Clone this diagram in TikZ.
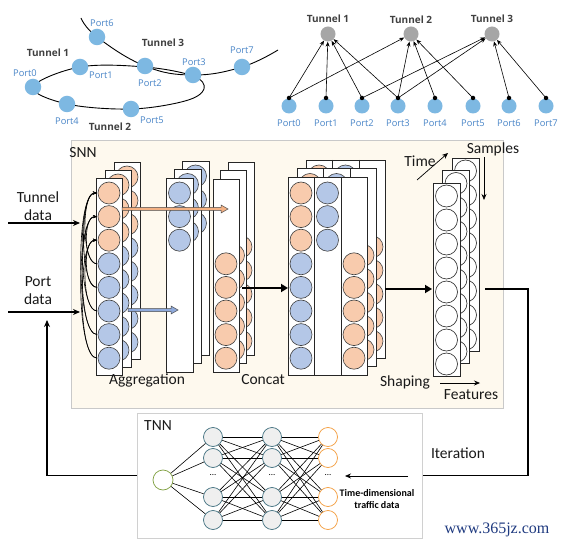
\documentclass[tikz,border=0pt]{standalone}
\usepackage{fontspec}
\setmainfont{Carlito}
\newfontfamily\wmfont{Liberation Serif}
\newfontfamily\grfont{Open Sans}
\usetikzlibrary{arrows.meta}
\definecolor{portblue}{HTML}{7DB8E2}
\definecolor{porttext}{HTML}{4A86C8}
\definecolor{tungray}{HTML}{A6A6A6}
\definecolor{tuntext}{HTML}{404040}
\definecolor{orfill}{HTML}{F8CBAD}
\definecolor{blfill}{HTML}{B4C7E7}
\definecolor{snnbg}{HTML}{FEF9EE}
\definecolor{snnborder}{HTML}{C9C9C9}
\definecolor{tnnborder}{HTML}{D0D0D0}
\definecolor{hidfill}{HTML}{EFEFEF}
\definecolor{hiddraw}{HTML}{41707F}
\definecolor{outdraw}{HTML}{F39C3C}
\definecolor{indraw}{HTML}{7F9F3F}
\definecolor{arrorange}{HTML}{F4B183}
\definecolor{arrblue}{HTML}{8FAADC}
\definecolor{wmblue}{HTML}{1F3A80}
\tikzset{
 portc/.style={circle, fill=portblue, inner sep=0, minimum size=16.5pt},
 portlbl/.style={text=porttext, font=\grfont\fontsize{9.3}{10}\selectfont, inner sep=0},
 tunlbl/.style={text=tuntext, font=\grfont\bfseries\fontsize{10}{11}\selectfont, inner sep=0},
 tunc/.style={circle, fill=tungray, inner sep=0, minimum size=15pt},
 pdot/.style={circle, fill=black, inner sep=0, minimum size=4.5pt},
 tedge/.style={-{Stealth[length=5pt,width=4pt]}, line width=0.6pt},
 lbl/.style={font=\fontsize{15.5}{18}\selectfont, inner sep=0, text=black!90},
 panel/.style={draw=black!85, fill=white, line width=0.7pt},
 divline/.style={draw=black!85, line width=0.7pt},
 oc/.style={draw=black!75, fill=orfill, line width=0.6pt},
 bc/.style={draw=black!75, fill=blfill, line width=0.6pt},
 wc/.style={draw=black!85, fill=white, line width=0.6pt},
 thickarr/.style={line width=2.6pt, -{Triangle[length=7pt,width=8pt]}},
 thinarr/.style={line width=0.7pt, -{Stealth[length=6pt,width=5pt]}},
 inarr/.style={line width=1.3pt, -{Stealth[length=7pt,width=6pt]}},
 routeline/.style={line width=1.3pt},
 hid/.style={circle, draw=hiddraw, fill=hidfill, line width=0.7pt, minimum size=19pt, inner sep=0},
 outn/.style={circle, draw=outdraw, fill=white, line width=0.7pt, minimum size=19pt, inner sep=0},
 inn/.style={circle, draw=indraw, fill=white, line width=0.7pt, minimum size=20pt, inner sep=0},
 nnedge/.style={line width=0.6pt, black},
 loopline/.style={line width=0.9pt},
 aggcurve/.style={line width=0.6pt, -{Stealth[length=4pt,width=3pt]}},
}
\begin{document}
\begin{tikzpicture}[x=1pt,y=-1pt]
\useasboundingbox (0,0) rectangle (562,545);
\fill[white] (0,0) rectangle (562,545);

% ---------- top-left topology ----------
\draw[loopline] plot[smooth, tension=0.7] coordinates {(81,18) (97,37) (145,66) (193,75) (242,67) (278,50)};
\draw[loopline] plot[smooth cycle, tension=0.6] coordinates {(33,87) (80,67) (145,67) (193,76) (204,89) (185,101) (131,109) (67,104)};
\node[portc] (lp0) at (33,87) {};
\node[portc] (lp1) at (80,67) {};
\node[portc] (lp2) at (145,66) {};
\node[portc] (lp3) at (193,75) {};
\node[portc] (lp4) at (67,104) {};
\node[portc] (lp5) at (131,109) {};
\node[portc] (lp6) at (97,37) {};
\node[portc] (lp7) at (242,67) {};
\node[portlbl] (lt0) at (25,73) {Port0};
\node[portlbl] (lt1) at (101,75) {Port1};
\node[portlbl] (lt2) at (150,83) {Port2};
\node[portlbl] (lt3) at (194,62) {Port3};
\node[portlbl] (lt4) at (67,121) {Port4};
\node[portlbl] (lt5) at (152,120) {Port5};
\node[portlbl] (lt6) at (102,23) {Port6};
\node[portlbl] (lt7) at (242,50) {Port7};
\node[tunlbl] (ltun1) at (48,53) {Tunnel 1};
\node[tunlbl] (ltun2) at (110,127) {Tunnel 2};
\node[tunlbl] (ltun3) at (163,43) {Tunnel 3};

% ---------- top-right bipartite graph ----------
\foreach \i/\x in {0/289,1/326,2/362,3/398,4/435,5/473,6/509,7/546} {
  \node[portc, minimum size=15pt] (rp\i) at (\x,106) {};
  \node[pdot] (rd\i) at (\x,98) {};
  \node[portlbl] (rl\i) at (\x,123) {Port\i};
}
\node[tunc] (t1) at (328,34) {};
\node[tunc] (t2) at (411,34) {};
\node[tunc] (t3) at (492,34) {};
\node[tunlbl] (tl1) at (328,19) {Tunnel 1};
\node[tunlbl] (tl2) at (411,20) {Tunnel 2};
\node[tunlbl] (tl3) at (492,19) {Tunnel 3};
\foreach \p/\t in {0/1,1/1,2/1,3/1,0/2,3/2,4/2,5/2,2/3,3/3,6/3,7/3}
  \draw[tedge] (rd\p.center) -- (t\t);

% ---------- SNN box ----------
\node[draw=snnborder, fill=snnbg, line width=1pt, minimum width=432pt, minimum height=267pt, inner sep=0] (snn) at (287,274.5) {};
\node[lbl] (snnl) at (83,153) {SNN};

% stack 1
\foreach \m in {2,1,0} {
  \begin{scope}[shift={(9*\m,-8*\m)}]
    \draw[panel] (96,178) rectangle (122,375);
    \foreach \k in {1,2,3} \draw[oc] (109,{193+23.6*(\k-1)}) circle (11);
    \foreach \k in {4,...,8} \draw[bc] (109,{193+23.6*(\k-1)}) circle (11);
  \end{scope}
}
% stack 2
\foreach \m in {2,1,0} {
  \begin{scope}[shift={(8*\m,-8.5*\m)}]
    \draw[panel] (166,178) rectangle (193,372);
    \foreach \k in {1,2,3} \draw[bc] (179.5,{193+23.6*(\k-1)}) circle (11);
  \end{scope}
}
% stack 3
\foreach \m in {2,1,0} {
  \begin{scope}[shift={(7.5*\m,-8.5*\m)}]
    \draw[panel] (213,179) rectangle (239,372);
    \foreach \k in {4,...,8} \draw[oc] (226,{193+23.6*(\k-1)}) circle (11);
  \end{scope}
}
% stack 4
\foreach \m in {2,1,0} {
  \begin{scope}[shift={(9*\m,-8.5*\m)}]
    \draw[panel] (288,177) rectangle (367,375);
    \draw[divline] (314,177) -- (314,375) (341,177) -- (341,375);
    \foreach \k in {1,2,3} {
      \draw[oc] (301,{193+23.6*(\k-1)}) circle (11);
      \draw[bc] (327.5,{193+23.6*(\k-1)}) circle (11);
    }
    \foreach \k in {4,...,8} {
      \draw[bc] (301,{193+23.6*(\k-1)}) circle (11);
      \draw[oc] (354,{193+23.6*(\k-1)}) circle (11);
    }
  \end{scope}
}
% stack 5
\foreach \m in {2,1,0} {
  \begin{scope}[shift={(9.5*\m,-12.5*\m)}]
    \draw[panel] (433,183) rectangle (460,376);
    \foreach \k in {1,...,8} \draw[wc] (446.5,{196+24*(\k-1)}) circle (11);
  \end{scope}
}

% aggregation curves on stack 1
\foreach \a/\b in {4/1,5/1,6/1,7/1,4/2,7/2,8/2,5/3,6/3,8/3} {
  \coordinate (cs\a\b) at (97,{193+23.6*(\a-1)});
  \coordinate (ce\a\b) at (97,{193+23.6*(\b-1)});
  \pgfmathsetmacro\dd{10+0.08*23.6*(\a-\b)}
  \draw[aggcurve] (cs\a\b) .. controls +(-\dd,0) and +(-\dd,0) .. (ce\a\b);
}

% block arrows
\draw[draw=black!70, fill=arrorange, line width=0.5pt] (122,207.5) -- (221,207.5) -- (221,205) -- (228,209) -- (221,213) -- (221,210.5) -- (122,210.5) -- cycle;
\draw[draw=black!70, fill=arrblue, line width=0.5pt] (128,308.5) -- (171,308.5) -- (171,306) -- (178,310) -- (171,314) -- (171,311.5) -- (128,311.5) -- cycle;

% thick arrows
\coordinate (s3o) at (242,288);
\coordinate (s4i) at (288,288);
\coordinate (s4o) at (385,289);
\coordinate (s5i) at (432,289);
\draw[thickarr] (s3o) -- (s4i);
\draw[thickarr] (s4o) -- (s5i);

% stack labels
\node[lbl] (agg) at (147,380) {Aggregation};
\node[lbl] (con) at (263,380) {Concat};
\node[lbl] (sha) at (405,382) {Shaping};
\node[lbl] (fea) at (471,395) {Features};
\node[lbl] (tim) at (420,161) {Time};
\node[lbl] (sam) at (493,149) {Samples};
\coordinate (ta) at (417,180); \coordinate (tb) at (448,153);
\coordinate (sa) at (484,157); \coordinate (sb) at (484,200);
\coordinate (fa) at (440,383); \coordinate (fb2) at (480,383);
\draw[thinarr] (ta) -- (tb);
\draw[thinarr] (sa) -- (sb);
\draw[thinarr] (fa) -- (fb2);

% inputs
\node[lbl, align=center] (tdl) at (38,206) {Tunnel\\data};
\node[lbl, align=center] (pdl) at (38,291) {Port\\data};
\coordinate (tin) at (8,223); \coordinate (tend) at (80,223);
\coordinate (pin) at (8,312); \coordinate (pend) at (80,312);
\draw[inarr] (tin) -- (tend);
\draw[inarr] (pin) -- (pend);

% ---------- TNN box ----------
\node[draw=tnnborder, fill=white, line width=1pt, minimum width=285pt, minimum height=125pt, inner sep=0] (tnn) at (279.5,475.5) {};
\node[lbl] (tnnl) at (158,426) {TNN};
\node[inn] (in) at (163,480) {};
\foreach \j/\y in {1/437,2/458,3/497,4/520} {
  \node[hid] (a\j) at (213,\y) {};
  \node[hid] (b\j) at (272,\y) {};
  \node[outn] (c\j) at (328,\y) {};
}
\node[font=\fontsize{9}{10}\selectfont] (da) at (213,475) {...};
\node[font=\fontsize{9}{10}\selectfont] (db) at (272,475) {...};
\node[font=\fontsize{9}{10}\selectfont] (dc) at (328,475) {...};
\foreach \i in {1,...,4} {
  \draw[nnedge] (in) -- (a\i);
  \foreach \j in {1,...,4} {
    \draw[nnedge] (a\i) -- (b\j);
    \draw[nnedge] (b\i) -- (c\j);
  }
}
\node[font=\bfseries\fontsize{10}{12}\selectfont, align=center, inner sep=0] (tdd) at (377,499) {Time-dimensional\\traffic data};
\coordinate (tia) at (408,476); \coordinate (tib) at (345,476);
\draw[thinarr] (tia) -- (tib);

% loop lines
\coordinate (sout) at (485,289);
\coordinate (fbend) at (47,320);
\draw[routeline] (sout) -| (528,475.5) -- (tnn.east);
\draw[routeline, -{Stealth[length=7pt,width=6pt]}] (tnn.west) -| (fbend);
\node[lbl] (itl) at (458,453) {Iteration};

% watermark
\node[font=\wmfont\fontsize{16}{17}\selectfont, text=wmblue, inner sep=0] (wm) at (497,530) {www.365jz.com};
\end{tikzpicture}
\end{document}
